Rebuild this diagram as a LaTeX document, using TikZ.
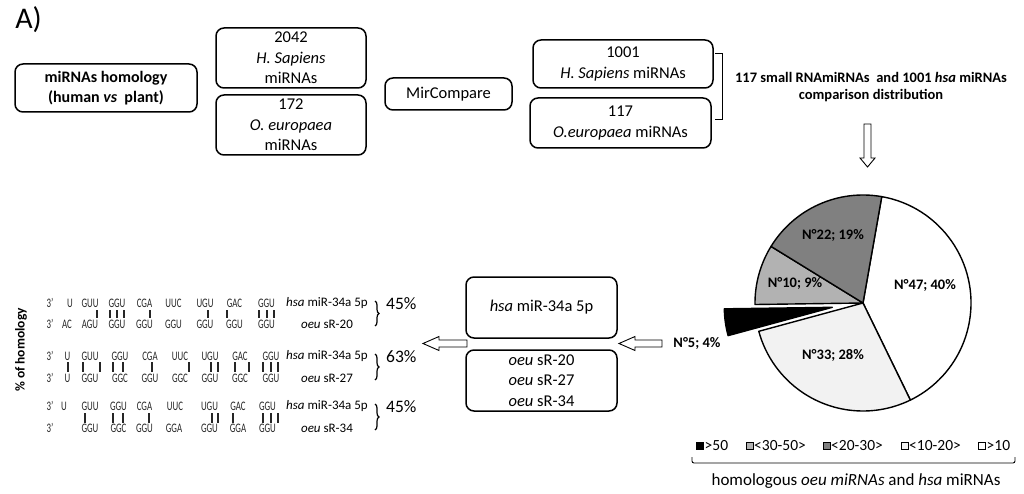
\documentclass[tikz,border=0pt]{standalone}
\usepackage{fontspec}
\usetikzlibrary{decorations.pathreplacing}
\setmainfont{Carlito}
\newfontfamily\narrowfont[FakeStretch=0.68]{Carlito}
\begin{document}
\begin{tikzpicture}[x=1pt,y=-1pt,
  box/.style={draw, line width=1.5pt, rounded corners=8pt, align=center, inner sep=0pt,
    font=\fontsize{16.5}{20.5}\selectfont},
  seqtxt/.style={inner sep=0pt, text=black!85, font=\narrowfont\fontsize{13}{13}\selectfont},
  lbl/.style={inner sep=0pt, font=\fontsize{13}{13}\selectfont},
  pct/.style={inner sep=0pt, anchor=west, font=\fontsize{17.5}{18}\selectfont},
  bar/.style={line width=1.6pt, black!85},
  pielbl/.style={inner sep=0pt, font=\bfseries\fontsize{14.5}{17}\selectfont},
  legsq/.style={draw, line width=1pt, minimum size=7pt, inner sep=0pt},
  legtxt/.style={inner sep=0pt, anchor=west, font=\fontsize{15.5}{15.5}\selectfont},
  hollow/.style={draw, line width=0.9pt, fill=white},
  slice/.style={draw, line width=1.4pt, line join=round}
]
\useasboundingbox (0,0) rectangle (1024,494);

% title
\node[inner sep=0pt, font=\fontsize{30}{30}\selectfont] (title) at (28.5,20) {A)};

% top row boxes
\node[box, minimum width=182pt, minimum height=48pt, font=\bfseries\fontsize{16}{20}\selectfont] (homol) at (106,88)
  {miRNAs homology\\(human \textit{vs}~ plant)};
\node[box, minimum width=150pt, minimum height=60pt] (h2042) at (291,58) {2042\\\textit{H. Sapiens}\\miRNAs};
\node[box, minimum width=150pt, minimum height=60pt] (o172) at (291,125) {172\\\textit{O. europaea}\\miRNAs};
\node[box, minimum width=127pt, minimum height=32pt] (mirc) at (448.5,94) {MirCompare};
\node[box, minimum width=180pt, minimum height=48pt] (h1001) at (623,64) {1001\\\textit{H. Sapiens} miRNAs};
\node[box, minimum width=181pt, minimum height=50pt] (o117) at (620.5,123) {117\\\textit{O.europaea} miRNAs};

% bracket
\draw[line width=0.9pt] (715,53) -- (722,53) -- (722,119) -- (715,119);
\node[inner sep=0pt, align=center, font=\bfseries\fontsize{14.5}{17}\selectfont] (cmp) at (871,87.5)
  {117 small RNAmiRNAs~ and 1001 \textit{hsa} miRNAs\\comparison distribution};

% down arrow
\draw[hollow] (864,124) -- (871,124) -- (871,158) -- (875,158) -- (867.5,167) -- (860,158) -- (864,158) -- cycle;

% pie
\begin{scope}[shift={(863,303)}, y=1pt]
  \draw[slice, fill=white] (0,0) -- (80:108) arc[start angle=80, end angle=-64, radius=108] -- cycle;
  \draw[slice, fill=black!5] (0,0) -- (-64:108) arc[start angle=-64, end angle=-164.8, radius=108] -- cycle;
  \draw[slice, fill=black!30] (0,0) -- (-179.2:108) arc[start angle=-179.2, end angle=-211.6, radius=108] -- cycle;
  \draw[slice, fill=black!50] (0,0) -- (-211.6:108) arc[start angle=-211.6, end angle=-280, radius=108] -- cycle;
  \begin{scope}[shift={(-172:31)}]
    \draw[slice, fill=black] (0,0) -- (-164.8:108) arc[start angle=-164.8, end angle=-179.2, radius=108] -- cycle;
  \end{scope}
\end{scope}
\node[pielbl] (p22) at (833,235) {N°22; 19\%};
\node[pielbl] (p10) at (795,283) {N°10; 9\%};
\node[pielbl] (p47) at (925,285) {N°47; 40\%};
\node[pielbl] (p33) at (833,355) {N°33; 28\%};
\node[pielbl] (p5) at (697,343) {N°5; 4\%};

% legend
\node[legsq, fill=black] (q1) at (700,446) {};
\node[legtxt] (t1) at (704.5,446) {>50};
\node[legsq, fill=black!30] (q2) at (749.5,446) {};
\node[legtxt] (t2) at (754,446) {<30-50>};
\node[legsq, fill=black!50] (q3) at (826.5,446) {};
\node[legtxt] (t3) at (831,446) {<20-30>};
\node[legsq, fill=black!5] (q4) at (904.5,446) {};
\node[legtxt] (t4) at (909,446) {<10-20>};
\node[legsq, fill=white] (q5) at (982,446) {};
\node[legtxt] (t5) at (986.5,446) {>10};
\draw[line width=0.9pt, rounded corners=2pt] (692,457) -- (692,463) -- (1015,463) -- (1015,457);
\node[inner sep=0pt, font=\fontsize{17}{17}\selectfont] (homtxt) at (856,481)
  {homologous \textit{oeu miRNAs} and \textit{hsa} miRNAs};

% middle boxes
\node[box, minimum width=151pt, minimum height=61pt] (hsa) at (541.5,307.5) {\textit{hsa} miR-34a 5p};
\node[box, minimum width=151pt, minimum height=61pt] (oeu) at (541.5,380.5)
  {\textit{oeu} sR-20\\\textit{oeu} sR-27\\\textit{oeu} sR-34};

% hollow arrows
\draw[hollow] (662,340) -- (635,340) -- (635,336.5) -- (619,343.5) -- (635,350.5) -- (635,347) -- (662,347) -- cycle;
\draw[hollow] (467,340) -- (439,340) -- (439,336.5) -- (423,343.5) -- (439,350.5) -- (439,347) -- (467,347) -- cycle;

% y-axis label
\node[inner sep=0pt, rotate=90, font=\bfseries\fontsize{13.5}{14}\selectfont] (ylab) at (21,350) {\% of homology};

% row 1
\foreach \x/\t [count=\i] in {50/3’, 70/U, 90/GUU, 117/GGU, 144.5/CGA, 173.5/UUC, 205/UGU, 234.5/GAC, 266.5/GGU}
  \node[seqtxt] (ra\i) at (\x,303) {\t};
\foreach \x/\t [count=\i] in {50/3’, 67/AC, 90/AGU, 117/GGU, 144.5/GGU, 173.5/GGU, 205/GGU, 234.5/GGU, 266.5/GGU}
  \node[seqtxt] (rb\i) at (\x,324) {\t};
\foreach \x in {97,110,117,124,150,208,227,259,267,274}
  \draw[bar] (\x,310) -- (\x,317.5);

% row 2
\foreach \x/\t [count=\i] in {50/3’, 67.5/U, 90/GUU, 120/GGU, 150/CGA, 180/UUC, 210/UGU, 240/GAC, 271/GGU}
  \node[seqtxt] (rc\i) at (\x,356) {\t};
\foreach \x/\t [count=\i] in {50/3’, 67.5/U, 90/GGU, 120/GGC, 150/GGU, 180/GGC, 210/GGU, 240/GGC, 271/GGU}
  \node[seqtxt] (rd\i) at (\x,378) {\t};
\foreach \x in {68,83,100,113,123,152,189,211,218,235,249,263,271,278}
  \draw[bar] (\x,362) -- (\x,371.5);

% row 3
\foreach \x/\t [count=\i] in {50/3’, 64/U, 90/GUU, 118.5/GGU, 144.5/CGA, 175/UUC, 209.5/UGU, 238/GAC, 267.5/GGU}
  \node[seqtxt] (re\i) at (\x,406) {\t};
\foreach \x/\t [count=\i] in {50/3’, 90/GGU, 118.5/GGC, 144.5/GGU, 174/GGA, 209.5/GGU, 238/GGA, 267.5/GGU}
  \node[seqtxt] (rf\i) at (\x,428) {\t};
\foreach \x in {85,113,123,149,212,218,233,263,271,278}
  \draw[bar] (\x,413) -- (\x,423);

% labels, braces, percentages
\foreach \yt/\yb/\nm/\p [count=\i] in {303/324/20/45, 356/378/27/63, 406/428/34/45} {
  \node[lbl] (la\i) at (327,\yt) {\textit{hsa} miR-34a 5p};
  \node[lbl] (lb\i) at (327,\yb) {\textit{oeu} sR-\nm};
  \draw[line width=1.2pt, decorate, decoration={brace, amplitude=4pt}] (375,\yt-2) -- (375,\yb+2);
  \node[pct] (pc\i) at (386,\yt+1) {\p\%};
}
\end{tikzpicture}
\end{document}
